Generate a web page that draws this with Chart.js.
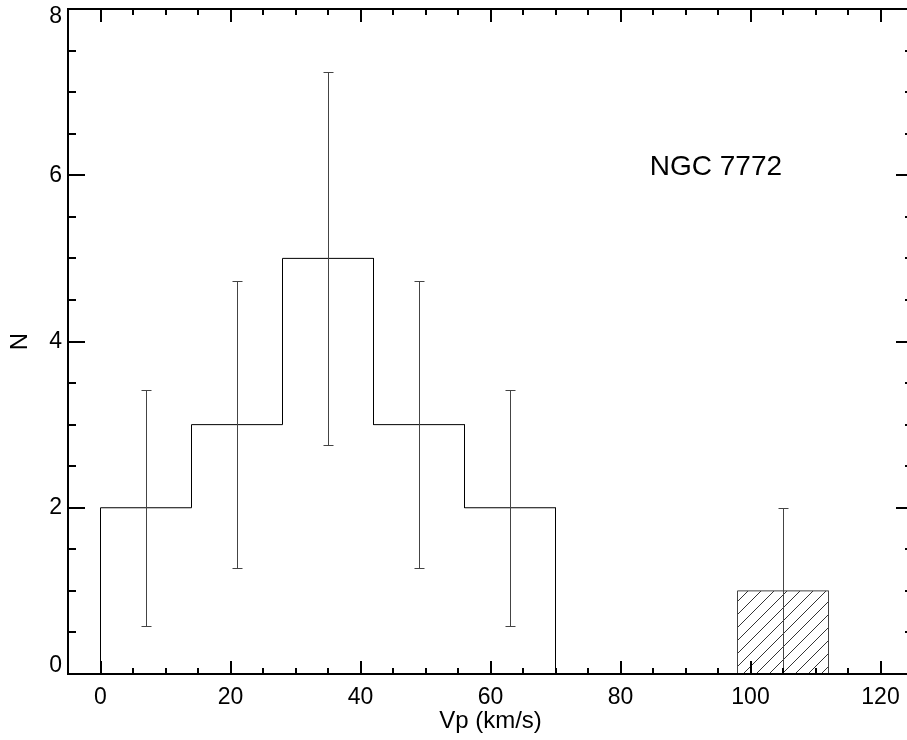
<!DOCTYPE html>
<html>
<head>
<meta charset="utf-8">
<script src="https://cdn.jsdelivr.net/npm/chart.js@4.4.1/dist/chart.umd.min.js"></script>
<style>
  html, body { margin: 0; padding: 0; background: #fff; overflow: hidden; }
  #wrap { width: 907px; height: 740px; overflow: hidden; }
  canvas { display: block; }
</style>
</head>
<body>
<div id="wrap"><canvas id="hist-canva" width="920" height="740"></canvas></div>
<script>
// histogram bins (km/s) and counts
const binEdges = [0, 14, 28, 42, 56, 70];
const counts = [2, 3, 5, 3, 2];

// hatched bin
const hatchEdges = [98, 112];
const hatchCounts = [1];

// error bars
const errX = [7, 21, 35, 49, 63, 105];
const errLow = [0.58, 1.27, 2.76, 1.27, 0.58, 0];
const errHigh = [3.42, 4.73, 7.24, 4.73, 3.42, 2];

const xTicks = [0, 20, 40, 60, 80, 100, 120];
const yTicks = [0, 2, 4, 6, 8];
const xMinorStep = 5;
const yMinorStep = 0.5;

const labelText = 'NGC 7772';
const labelPos = {x: 84.5, y: 6.1};

const FONT = '"Liberation Sans", Arial, Helvetica, sans-serif';

// turn edges + counts into step outline vertices
function stepPoints(edges, vals) {
  const pts = [{x: edges[0], y: 0}];
  for (let i = 0; i < vals.length; i++) {
    pts.push({x: edges[i], y: vals[i]});
    pts.push({x: edges[i + 1], y: vals[i]});
  }
  pts.push({x: edges[edges.length - 1], y: 0});
  return pts;
}

// diagonal hatch pattern
function makeHatch() {
  const s = 13;
  const c = document.createElement('canvas');
  c.width = s; c.height = s;
  const g = c.getContext('2d');
  g.strokeStyle = '#333';
  g.lineWidth = 1;
  g.beginPath();
  g.moveTo(0, s); g.lineTo(s, 0);
  g.moveTo(-s / 2, s / 2); g.lineTo(s / 2, -s / 2);
  g.moveTo(s / 2, s + s / 2); g.lineTo(s + s / 2, s / 2);
  g.stroke();
  return g.createPattern(c, 'repeat');
}

// frame with inward ticks on all four sides, y labels kept inside the frame height
const frameTicks = {
  id: 'frameTicks',
  afterDraw(chart) {
    const {ctx, chartArea: a, scales: {x, y}} = chart;
    ctx.save();
    ctx.strokeStyle = '#000';
    ctx.lineWidth = 2;
    ctx.strokeRect(a.left, a.top, a.right - a.left, a.bottom - a.top);
    ctx.beginPath();
    for (let v = x.min; v <= x.max; v += xMinorStep) {
      const px = Math.round(x.getPixelForValue(v));
      if (px <= a.left + 1 || px >= a.right - 1) continue;
      const len = xTicks.includes(v) ? 13 : 6;
      ctx.moveTo(px, a.bottom); ctx.lineTo(px, a.bottom - len);
      ctx.moveTo(px, a.top); ctx.lineTo(px, a.top + len);
    }
    for (let v = y.min; v <= y.max; v += yMinorStep) {
      const py = Math.round(y.getPixelForValue(v));
      if (py <= a.top + 1 || py >= a.bottom - 1) continue;
      const len = yTicks.includes(v) ? 17 : 8;
      ctx.moveTo(a.left, py); ctx.lineTo(a.left + len, py);
      ctx.moveTo(a.right, py); ctx.lineTo(a.right - len, py);
    }
    ctx.stroke();

    ctx.fillStyle = '#000';
    ctx.font = '23px ' + FONT;
    ctx.textAlign = 'right';
    ctx.textBaseline = 'middle';
    yTicks.forEach(v => {
      const py = Math.min(Math.max(y.getPixelForValue(v), a.top + 8), a.bottom - 8);
      ctx.fillText(String(v), a.left - 6, py);
    });

    ctx.font = '28px ' + FONT;
    ctx.textAlign = 'left';
    ctx.fillText(labelText, x.getPixelForValue(labelPos.x), y.getPixelForValue(labelPos.y));
    ctx.restore();
  }
};

// vertical error bars with caps
const errorBars = {
  id: 'errorBars',
  afterDatasetsDraw(chart) {
    const {ctx, scales: {x, y}} = chart;
    ctx.save();
    ctx.strokeStyle = '#444';
    ctx.lineWidth = 1;
    ctx.beginPath();
    errX.forEach((v, i) => {
      const px = Math.round(x.getPixelForValue(v)) + 0.5;
      const lo = Math.round(y.getPixelForValue(errLow[i])) + 0.5;
      const hi = Math.round(y.getPixelForValue(errHigh[i])) + 0.5;
      ctx.moveTo(px, lo); ctx.lineTo(px, hi);
      ctx.moveTo(px - 5, hi); ctx.lineTo(px + 5, hi);
      if (errLow[i] > 0) { ctx.moveTo(px - 5, lo); ctx.lineTo(px + 5, lo); }
    });
    ctx.stroke();
    ctx.restore();
  }
};

const data = {
  datasets: [
    {
      label: 'hatched',
      data: stepPoints(hatchEdges, hatchCounts),
      borderColor: '#444',
      borderWidth: 1,
      backgroundColor: makeHatch(),
      fill: 'origin',
      pointRadius: 0,
      tension: 0
    },
    {
      label: 'histogram',
      data: stepPoints(binEdges, counts),
      borderColor: '#000',
      borderWidth: 1,
      fill: false,
      pointRadius: 0,
      tension: 0
    }
  ]
};

const config = {
  type: 'scatter',
  data: data,
  options: {
    responsive: false,
    animation: false,
    devicePixelRatio: 1,
    showLine: true,
    layout: { padding: { left: 0, right: 7, top: 9, bottom: 0 } },
    plugins: {
      legend: { display: false },
      tooltip: { enabled: false }
    },
    scales: {
      x: {
        type: 'linear',
        min: -5,
        max: 125,
        afterBuildTicks: s => { s.ticks = xTicks.map(v => ({value: v})); },
        afterFit: s => { s.height = 66; s.paddingLeft = 0; s.paddingRight = 0; },
        grid: { display: false, drawTicks: false },
        border: { display: false },
        ticks: { color: '#000', font: { family: FONT, size: 23 }, padding: 10, maxRotation: 0 },
        title: {
          display: true,
          text: 'Vp (km/s)',
          color: '#000',
          font: { family: FONT, size: 24 },
          padding: { top: 0, bottom: 4 }
        }
      },
      y: {
        type: 'linear',
        min: 0,
        max: 8,
        afterBuildTicks: s => { s.ticks = yTicks.map(v => ({value: v})); },
        afterFit: s => { s.width = 68; s.paddingTop = 0; s.paddingBottom = 0; },
        grid: { display: false, drawTicks: false },
        border: { display: false },
        ticks: { display: false },
        title: {
          display: true,
          text: 'N',
          color: '#000',
          font: { family: FONT, size: 24 },
          padding: { top: 6, bottom: 0 }
        }
      }
    }
  },
  plugins: [errorBars, frameTicks]
};

let chart = new Chart(document.getElementById('hist-canva'), config);
</script>
</body>
</html>
